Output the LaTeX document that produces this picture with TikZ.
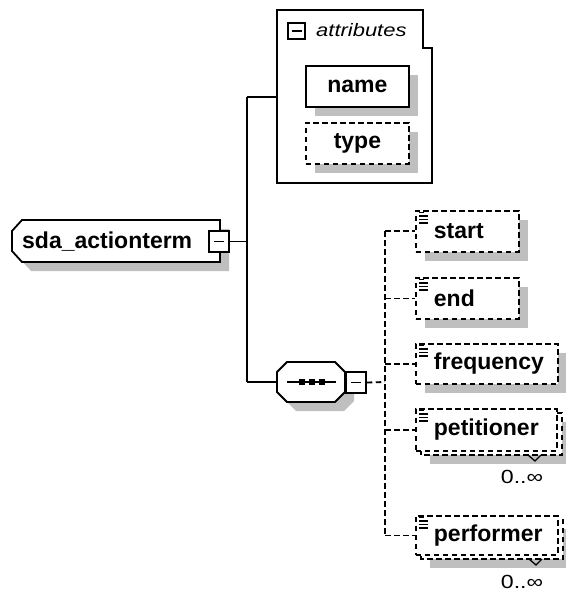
\documentclass[tikz,border=0pt]{standalone}
\usepackage{fontspec}
\setmainfont{Liberation Sans}
\newfontfamily\widesans[FakeStretch=1.22]{Liberation Sans}
\usetikzlibrary{shadows}
\tikzset{
  ink/.style={line width=1.8pt, line join=miter},
  shade9/.style={general shadow={fill=black!25, shadow xshift=9pt, shadow yshift=-9pt}},
  dashy/.style={dash pattern=on 5.5pt off 3.5pt},
  boxlabel/.style={font=\fontsize{23}{26}\selectfont\bfseries},
  elembox/.style={boxlabel, draw, ink, fill=white, inner sep=0pt, align=left, anchor=north west},
  optbox/.style={elembox, dashy},
  toggle/.style={draw, line width=1.5pt, fill=white, minimum width=20pt, minimum height=21pt, inner sep=0pt},
  wire/.style={line width=1.8pt},
  dwire/.style={wire, dashy},
  iconline/.style={line width=1.3pt},
  occurs/.style={font=\widesans\fontsize{19}{22}\selectfont, inner sep=0pt},
}
\begin{document}
\begin{tikzpicture}[x=1pt, y=-1pt]
\useasboundingbox (0,0) rectangle (565,593);

% ---- root element outline (chamfered on the left) ----
\draw[ink, fill=white, shade9] (22,220) -- (220,220) -- (220,262) -- (22,262)
  -- (12,251) -- (12,231) -- cycle;
\node[boxlabel, inner sep=0pt, text width=208pt, align=left, minimum height=42pt,
      anchor=north west] (main) at (12,220) {\hspace*{10pt}sda\_actionterm};
\node[toggle] (mtog) at (219,241.5) {};
\draw[line width=1.5pt] ([xshift=-5pt]mtog.center) -- ([xshift=5pt]mtog.center);

% ---- attribute group ----
\draw[ink] (277,10) -- (423,10) -- (423,48) -- (432,48) -- (432,183) -- (277,183) -- cycle;
\node[minimum width=155pt, minimum height=173pt, anchor=north west, inner sep=0pt]
  (attrs) at (277,10) {};
\node[draw, line width=1.5pt, minimum width=17pt, minimum height=16pt, inner sep=0pt]
  (atog) at (296.5,31) {};
\draw[line width=1.5pt] ([xshift=-5pt]atog.center) -- ([xshift=5pt]atog.center);
\node[anchor=west, inner sep=0pt, font=\widesans\itshape\fontsize{18}{20}\selectfont]
  (attrlabel) at (316,30) {attributes};
\node[elembox, shade9, align=center, text width=103pt, minimum height=41pt]
  (name) at (305,65) {name};
\node[optbox, shade9, align=center, text width=103pt, minimum height=41pt]
  (type) at (305,122) {type};

% ---- sequence compositor ----
\draw[ink, fill=white, shade9] (287,362) -- (335,362) -- (345,372) -- (345,392)
  -- (335,402) -- (287,402) -- (277,392) -- (277,372) -- cycle;
\node[minimum width=68pt, minimum height=40pt, inner sep=0pt] (seq) at (311,382) {};
\draw[wire] (287,382) -- (336,382);
\foreach \sx in {302,312,322}
  \fill (\sx-3,379) rectangle (\sx+3,385);
\node[toggle] (stog) at (356,382.5) {};
\draw[line width=1.5pt] ([xshift=-5pt]stog.center) -- ([xshift=5pt]stog.center);

% ---- stacked copies behind the repeatable children ----
\draw[ink, dashy, fill=white, shade9] (421,413) rectangle (562,455);
\draw[ink, dashy, fill=white, shade9] (421,520) rectangle (563,559);

% ---- child elements ----
\node[optbox, shade9, text width=103pt, minimum height=41pt]
  (start) at (415,210) {\hspace*{18pt}start};
\node[optbox, shade9, text width=103pt, minimum height=41pt]
  (end) at (415,277) {\hspace*{18pt}end};
\node[optbox, shade9, text width=142pt, minimum height=40pt]
  (frequency) at (415,343) {\hspace*{18pt}frequency};
\node[optbox, text width=141pt, minimum height=42pt]
  (petitioner) at (415,408) {\hspace*{18pt}petitioner};
\node[optbox, text width=142pt, minimum height=39pt]
  (performer) at (415,515) {\hspace*{18pt}performer};

% text-content marks in the child boxes
\foreach \n in {start,end,frequency,petitioner,performer}{
  \draw[iconline] ([shift={(4,2.5)}]\n.north west) -- ++(5,0);
  \draw[iconline] ([shift={(4,6)}]\n.north west) -- ++(9,0);
  \draw[iconline] ([shift={(4,9.5)}]\n.north west) -- ++(9,0);
  \draw[iconline] ([shift={(4,13)}]\n.north west) -- ++(9,0);
}

% occurrence marks
\draw[line width=1.3pt] (528,455) -- (535,461) -- (541,455);
\draw[line width=1.3pt] (529,559) -- (536,565) -- (542,559);
\node[occurs] (pocc) at (522,477) {0..∞};
\node[occurs] (focc) at (522,582) {0..∞};

% ---- connectors ----
\coordinate (trunk) at (247,241.5);
\coordinate (bus) at (385,382);
\draw[wire] (mtog.east) -- (trunk);
\draw[wire] (attrs.west -| trunk) -- (seq.west -| trunk);
\draw[wire] (attrs.west -| trunk) -- (attrs.west);
\draw[wire] (seq.west -| trunk) -- (seq.west);
\draw[dwire] (stog.east) -- (bus);
\draw[dwire] (start.west -| bus) -- (performer.west -| bus);
\foreach \n in {start,end,frequency,petitioner,performer}
  \draw[dwire] (\n.west -| bus) -- (\n.west);
\end{tikzpicture}
\end{document}
